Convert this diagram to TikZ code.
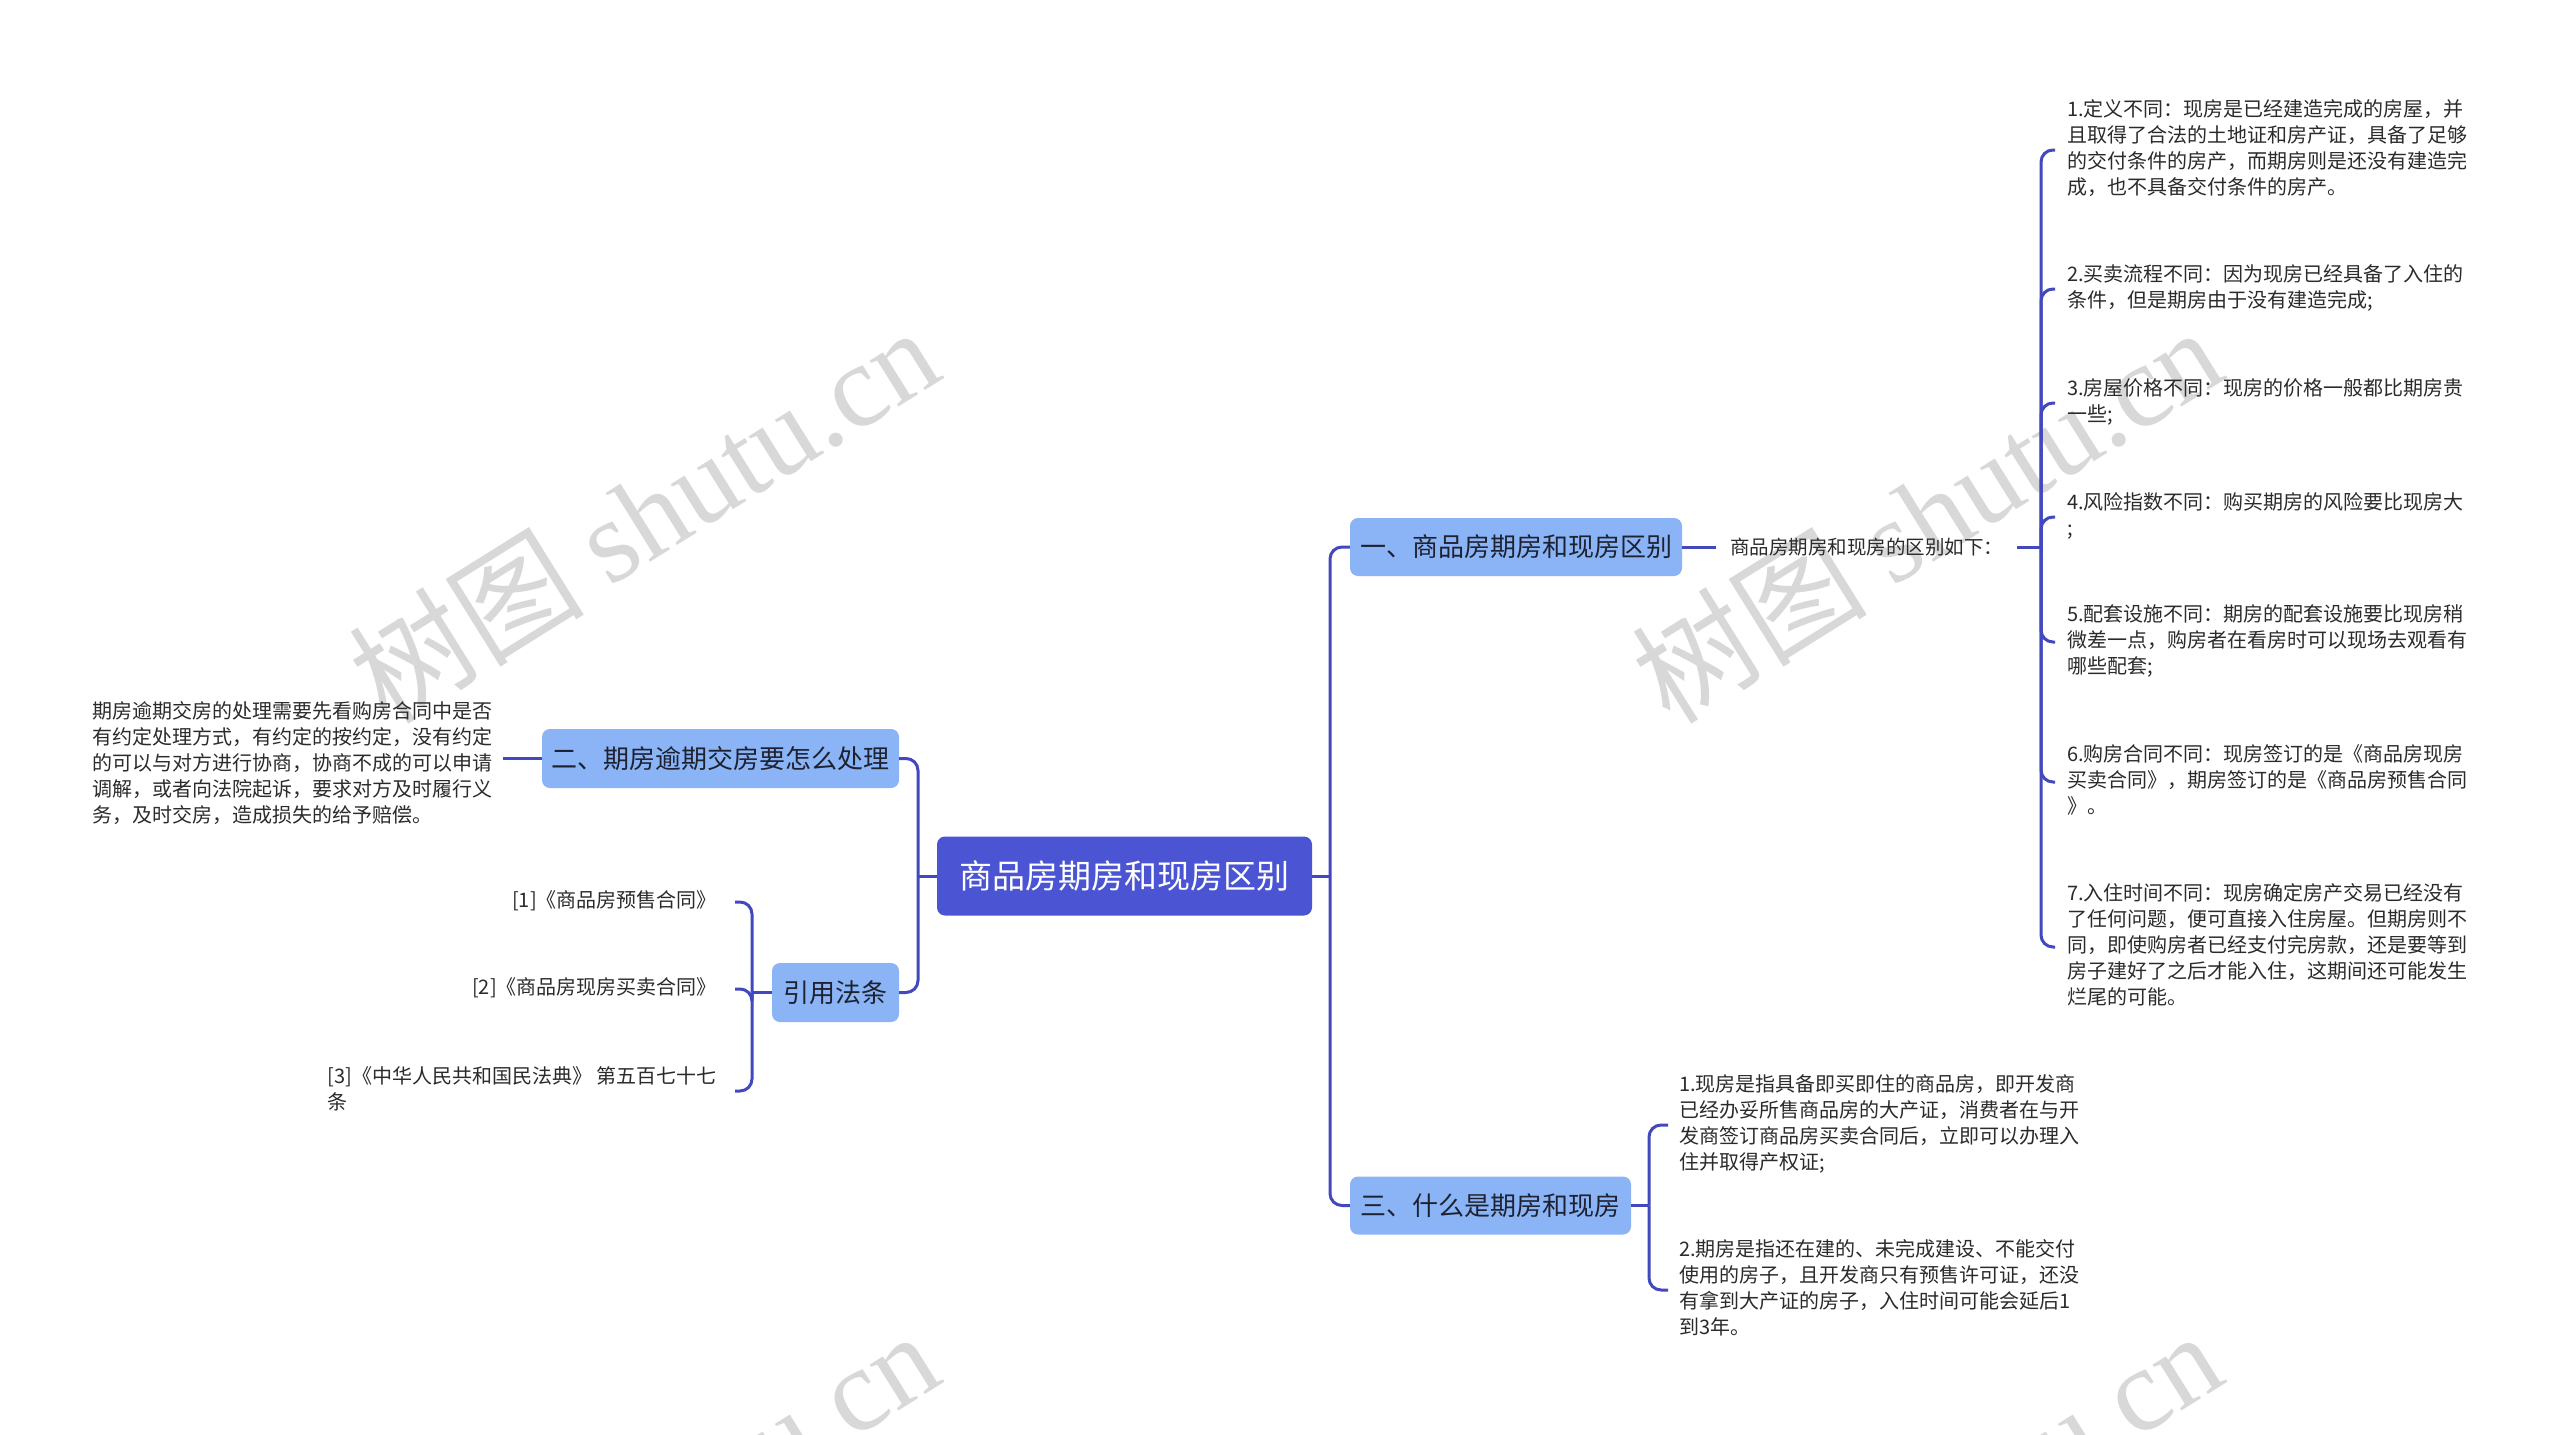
\documentclass[tikz,border=0pt]{standalone}
\usepackage{fontspec}
\setmainfont{Noto Sans CJK SC}
\newfontfamily\wmserif{Liberation Serif}
\definecolor{rootblue}{HTML}{4B55D4}
\definecolor{branchblue}{HTML}{8BB4F7}
\definecolor{linkblue}{HTML}{4249BE}
\definecolor{leaftext}{HTML}{2B2B2B}
\definecolor{branchtext}{HTML}{1E2230}
\definecolor{wmgray}{HTML}{D8D8D8}
\tikzset{
  rootbox/.style={rounded corners=8pt, fill=rootblue, text=white, font=\fontsize{33}{40}\selectfont, inner sep=0pt, minimum width=375pt, minimum height=79pt},
  branchbox/.style={rounded corners=8pt, fill=branchblue, text=branchtext, font=\fontsize{26}{32}\selectfont, inner sep=0pt, minimum height=58pt},
  leaf/.style={align=left, text=leaftext, font=\fontsize{20}{26}\selectfont, inner ysep=0pt, inner xsep=12pt},
  link/.style={draw=linkblue, line width=3pt, rounded corners=12pt},
  stub/.style={draw=linkblue, line width=3pt},
  wm/.style={text=wmgray, rotate=32, font=\fontsize{118}{118}\selectfont},
}
\begin{document}
\begin{tikzpicture}[x=1pt,y=-1pt]
\useasboundingbox (0,0) rectangle (2560,1435);
\fill[white] (0,0) rectangle (2560,1435);
% watermarks
\begin{scope}
\clip (0,0) rectangle (2560,1435);
\node[wm] (wm1) at (643,514) {树图 {\wmserif shutu.cn}};
\node[wm] (wm2) at (1926,514) {树图 {\wmserif shutu.cn}};
\node[wm] (wm3) at (643,1518) {树图 {\wmserif shutu.cn}};
\node[wm] (wm4) at (1926,1518) {树图 {\wmserif shutu.cn}};
\end{scope}

% main nodes
\node[rootbox] (root) at (1124.5,876) {商品房期房和现房区别};
\node[branchbox, minimum width=332pt] (b1) at (1516,547) {一、商品房期房和现房区别};
\node[branchbox, minimum width=281pt] (b3) at (1490.5,1205.5) {三、什么是期房和现房};
\node[branchbox, minimum width=357pt, minimum height=59pt] (b2) at (720.5,758.5) {二、期房逾期交房要怎么处理};
\node[branchbox, minimum width=127pt, minimum height=59pt] (ref) at (835.5,992.5) {引用法条};

% branch 1 subtree
\node[leaf, font=\fontsize{19.5}{24}\selectfont, inner xsep=14pt, anchor=west] (sub) at (1716,547) {商品房期房和现房的区别如下：};
\node[leaf, anchor=west] (i1) at (2055,150) {\strut 1.定义不同：现房是已经建造完成的房屋，并\\\strut 且取得了合法的土地证和房产证，具备了足够\\\strut 的交付条件的房产，而期房则是还没有建造完\\\strut 成，也不具备交付条件的房产。};
\node[leaf, anchor=west] (i2) at (2055,289) {\strut 2.买卖流程不同：因为现房已经具备了入住的\\\strut 条件，但是期房由于没有建造完成;};
\node[leaf, anchor=west] (i3) at (2055,403) {\strut 3.房屋价格不同：现房的价格一般都比期房贵\\\strut 一些;};
\node[leaf, anchor=west] (i4) at (2055,517) {\strut 4.风险指数不同：购买期房的风险要比现房大\\\strut ;};
\node[leaf, anchor=west] (i5) at (2055,642) {\strut 5.配套设施不同：期房的配套设施要比现房稍\\\strut 微差一点，购房者在看房时可以现场去观看有\\\strut 哪些配套;};
\node[leaf, anchor=west] (i6) at (2055,782) {\strut 6.购房合同不同：现房签订的是《商品房现房\\\strut 买卖合同》，期房签订的是《商品房预售合同\\\strut 》。};
\node[leaf, anchor=west] (i7) at (2055,947) {\strut 7.入住时间不同：现房确定房产交易已经没有\\\strut 了任何问题，便可直接入住房屋。但期房则不\\\strut 同，即使购房者已经支付完房款，还是要等到\\\strut 房子建好了之后才能入住，这期间还可能发生\\\strut 烂尾的可能。};

% branch 3 subtree
\node[leaf, inner xsep=11pt, anchor=west] (k1) at (1668,1125) {\strut 1.现房是指具备即买即住的商品房，即开发商\\\strut 已经办妥所售商品房的大产证，消费者在与开\\\strut 发商签订商品房买卖合同后，立即可以办理入\\\strut 住并取得产权证;};
\node[leaf, inner xsep=11pt, anchor=west] (k2) at (1668,1290) {\strut 2.期房是指还在建的、未完成建设、不能交付\\\strut 使用的房子，且开发商只有预售许可证，还没\\\strut 有拿到大产证的房子，入住时间可能会延后1\\\strut 到3年。};

% branch 2 subtree
\node[leaf, inner xsep=10pt, anchor=east] (para) at (503,765) {\strut 期房逾期交房的处理需要先看购房合同中是否\\\strut 有约定处理方式，有约定的按约定，没有约定\\\strut 的可以与对方进行协商，协商不成的可以申请\\\strut 调解，或者向法院起诉，要求对方及时履行义\\\strut 务，及时交房，造成损失的给予赔偿。};

% references subtree
\node[leaf, inner xsep=18pt, anchor=east] (r1) at (735,902) {\strut [1]《商品房预售合同》};
\node[leaf, inner xsep=18pt, anchor=east] (r2) at (735,989) {\strut [2]《商品房现房买卖合同》};
\node[leaf, inner xsep=18pt, anchor=east] (r3) at (735,1091) {\strut [3]《中华人民共和国民法典》 第五百七十七\\\strut 条};

% junction coordinates
\coordinate (jR) at (1330,876);
\coordinate (jL) at (918,876);
\coordinate (jA) at (2041,547);
\coordinate (jB) at (1649,1205.5);
\coordinate (jC) at (752,992.5);

% root connectors
\draw[stub] (root.east) -- (jR);
\draw[link] (jR) |- (b1.west);
\draw[link] (jR) |- (b3.west);
\draw[stub] (root.west) -- (jL);
\draw[link] (jL) |- (b2.east);
\draw[link] (jL) |- (ref.east);

% branch 1
\draw[stub] (b1.east) -- (sub.west);
\draw[stub] (sub.east) -- (jA);
\foreach \n in {i1,i2,i3,i4,i5,i6,i7} {
  \draw[link] (jA) |- (\n.west);
}

% branch 3
\draw[stub] (b3.east) -- (jB);
\draw[link] (jB) |- (k1.west);
\draw[link] (jB) |- (k2.west);

% branch 2
\draw[stub] (b2.west) -- (b2.west -| para.east);

% references
\draw[stub] (ref.west) -- (jC);
\draw[link] (jC) |- (r1.east);
\draw[link] (jC) |- (r2.east);
\draw[link] (jC) |- (r3.east);
\end{tikzpicture}
\end{document}
